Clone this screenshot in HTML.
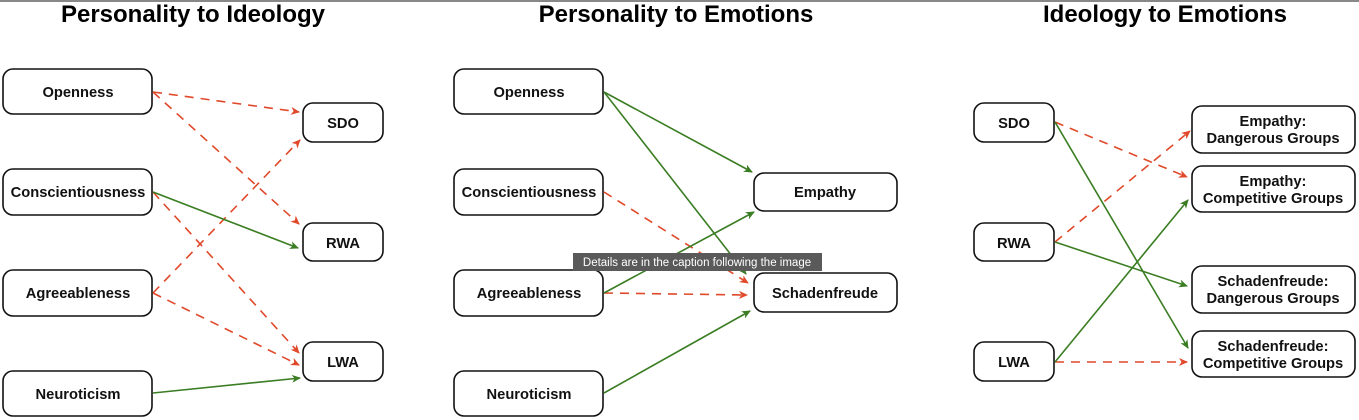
<!DOCTYPE html>
<html><head><style>
html,body{margin:0;padding:0;background:#fff;width:1359px;height:420px;overflow:hidden}
svg{display:block}
text{font-family:"Liberation Sans",Arial,sans-serif}
</style></head><body>
<svg width="1359" height="420" viewBox="0 0 1359 420">
<defs>
<marker id="r" markerWidth="10" markerHeight="10" refX="8" refY="4" orient="auto" markerUnits="userSpaceOnUse"><path d="M0,0 L9,4 L0,8 L2.5,4 Z" fill="#e0492a"/></marker>
<marker id="g" markerWidth="10" markerHeight="10" refX="8" refY="4" orient="auto" markerUnits="userSpaceOnUse"><path d="M0,0 L9,4 L0,8 L2.5,4 Z" fill="#3a7d22"/></marker>
</defs>
<rect x="0" y="0" width="1359" height="2" fill="#888"/>
<g font-weight="bold" font-size="24" text-anchor="middle" fill="#000">
<text x="193" y="22">Personality to Ideology</text>
<text x="676" y="22">Personality to Emotions</text>
<text x="1165" y="22">Ideology to Emotions</text>
</g>
<g fill="#fff" stroke="#111" stroke-width="1.6">
<rect x="3" y="69" width="149" height="45" rx="10"/>
<rect x="3" y="169" width="149" height="46" rx="10"/>
<rect x="3" y="270" width="149" height="46" rx="10"/>
<rect x="3" y="371" width="149" height="45" rx="10"/>
<rect x="303" y="103" width="80" height="39" rx="10"/>
<rect x="303" y="223" width="80" height="38" rx="10"/>
<rect x="303" y="342" width="80" height="39" rx="10"/>
<rect x="454" y="69" width="149" height="45" rx="10"/>
<rect x="454" y="169" width="149" height="46" rx="10"/>
<rect x="454" y="270" width="149" height="46" rx="10"/>
<rect x="454" y="371" width="149" height="45" rx="10"/>
<rect x="754" y="173" width="143" height="38" rx="10"/>
<rect x="754" y="273" width="143" height="39" rx="10"/>
<rect x="974" y="103" width="80" height="39" rx="10"/>
<rect x="974" y="223" width="80" height="38" rx="10"/>
<rect x="974" y="342" width="80" height="39" rx="10"/>
<rect x="1192" y="106" width="163" height="47" rx="10"/>
<rect x="1192" y="166" width="163" height="46" rx="10"/>
<rect x="1192" y="266" width="163" height="47" rx="10"/>
<rect x="1192" y="331" width="163" height="46" rx="10"/>
</g>
<g font-size="14.7" font-weight="bold" text-anchor="middle" fill="#111">
<text x="78" y="97">Openness</text>
<text x="78" y="197">Conscientiousness</text>
<text x="78" y="298">Agreeableness</text>
<text x="78" y="399">Neuroticism</text>
<text x="343" y="128">SDO</text>
<text x="343" y="248">RWA</text>
<text x="343" y="367">LWA</text>
<text x="529" y="97">Openness</text>
<text x="529" y="197">Conscientiousness</text>
<text x="529" y="298">Agreeableness</text>
<text x="529" y="399">Neuroticism</text>
<text x="825" y="197">Empathy</text>
<text x="825" y="298">Schadenfreude</text>
<text x="1014" y="128">SDO</text>
<text x="1014" y="248">RWA</text>
<text x="1014" y="367">LWA</text>
<text x="1273" y="126">Empathy:</text><text x="1273" y="143">Dangerous Groups</text>
<text x="1273" y="186">Empathy:</text><text x="1273" y="203">Competitive Groups</text>
<text x="1273" y="286">Schadenfreude:</text><text x="1273" y="303">Dangerous Groups</text>
<text x="1273" y="351">Schadenfreude:</text><text x="1273" y="368">Competitive Groups</text>
</g>
<g fill="none" stroke-width="1.6">
<g stroke="#e0492a" stroke-dasharray="9,7" marker-end="url(#r)">
<line x1="153" y1="92" x2="299" y2="112"/>
<line x1="153" y1="92" x2="299" y2="224"/>
<line x1="153" y1="192" x2="299" y2="353"/>
<line x1="153" y1="293" x2="300" y2="140"/>
<line x1="153" y1="293" x2="299" y2="365"/>
<line x1="604" y1="192" x2="748" y2="283"/>
<line x1="604" y1="293" x2="747" y2="295"/>
<line x1="1055" y1="122" x2="1187" y2="177"/>
<line x1="1055" y1="242" x2="1190" y2="131"/>
<line x1="1055" y1="362" x2="1187" y2="362"/>
</g>
<g stroke="#3a7d22" marker-end="url(#g)">
<line x1="153" y1="192" x2="298" y2="248"/>
<line x1="153" y1="393" x2="300" y2="378"/>
<line x1="604" y1="92" x2="752" y2="172"/>
<line x1="604" y1="92" x2="746" y2="274"/>
<line x1="604" y1="293" x2="754" y2="212"/>
<line x1="604" y1="393" x2="750" y2="311"/>
<line x1="1055" y1="122" x2="1188" y2="348"/>
<line x1="1055" y1="242" x2="1187" y2="286"/>
<line x1="1055" y1="362" x2="1188" y2="200"/>
</g>
</g>
<rect x="573" y="253" width="249" height="18" fill="#5a5a5a"/>
<text x="697" y="266" font-size="11.5" fill="#fff" text-anchor="middle">Details are in the caption following the image</text>
</svg>
</body></html>
